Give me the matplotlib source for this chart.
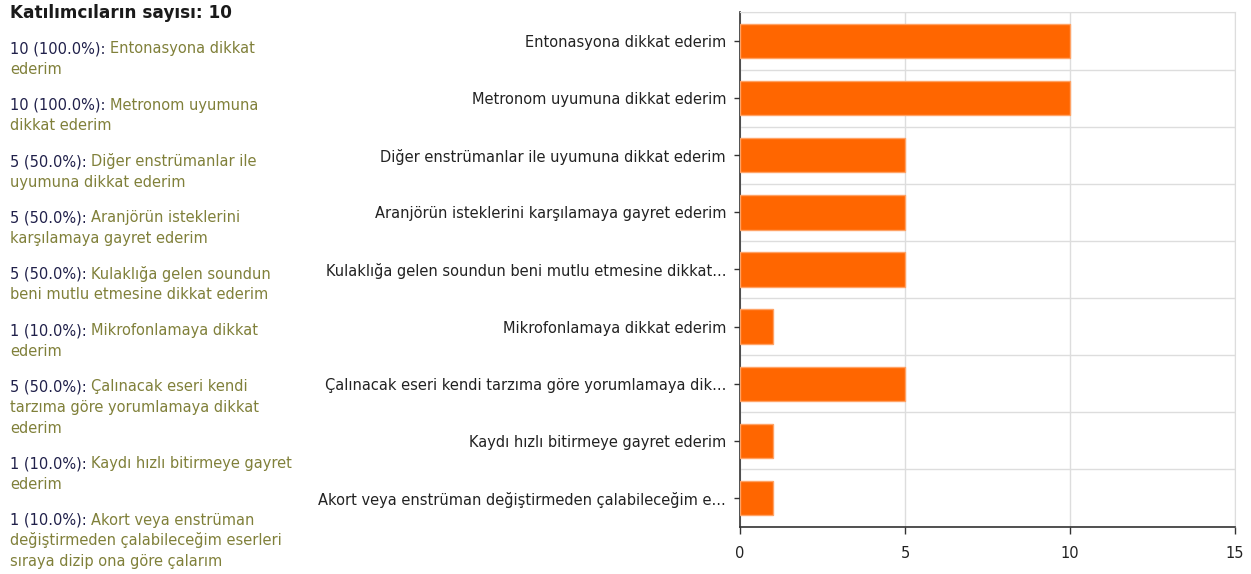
import matplotlib
matplotlib.use("Agg")
import matplotlib.pyplot as plt
import numpy as np

# ---- data ----
tick_labels = [
    "Entonasyona dikkat ederim",
    "Metronom uyumuna dikkat ederim",
    "Diğer enstrümanlar ile uyumuna dikkat ederim",
    "Aranjörün isteklerini karşılamaya gayret ederim",
    "Kulaklığa gelen soundun beni mutlu etmesine dikkat...",
    "Mikrofonlamaya dikkat ederim",
    "Çalınacak eseri kendi tarzıma göre yorumlamaya dik...",
    "Kaydı hızlı bitirmeye gayret ederim",
    "Akort veya enstrüman değiştirmeden çalabileceğim e...",
]
counts = [10, 10, 5, 5, 5, 1, 5, 1, 1]
percents = ["100.0%", "100.0%", "50.0%", "50.0%", "50.0%", "10.0%", "50.0%", "10.0%", "10.0%"]
side_lines = [
    ["Entonasyona dikkat", "ederim"],
    ["Metronom uyumuna", "dikkat ederim"],
    ["Diğer enstrümanlar ile", "uyumuna dikkat ederim"],
    ["Aranjörün isteklerini", "karşılamaya gayret ederim"],
    ["Kulaklığa gelen soundun", "beni mutlu etmesine dikkat ederim"],
    ["Mikrofonlamaya dikkat", "ederim"],
    ["Çalınacak eseri kendi", "tarzıma göre yorumlamaya dikkat", "ederim"],
    ["Kaydı hızlı bitirmeye gayret", "ederim"],
    ["Akort veya enstrüman", "değiştirmeden çalabileceğim eserleri", "sıraya dizip ona göre çalarım"],
]
header = "Katılımcıların sayısı: 10"
x_ticks = [0, 5, 10, 15]

W, H = 1251, 574
fig = plt.figure(figsize=(W / 100, H / 100), dpi=100)
plt.rcParams['font.family'] = ['DejaVu Sans']

# ---- axes ----
ax_l, ax_r, ax_t, ax_b = 740, 1235, 12.4, 526.6
ax = fig.add_axes([ax_l / W, 1 - ax_b / H, (ax_r - ax_l) / W, (ax_b - ax_t) / H])
y = np.arange(len(counts))
ax.barh(y, counts, height=0.6, color="#ff6600", edgecolor="#ffa366", linewidth=1, zorder=3)
ax.set_xlim(0, 15)
ax.set_ylim(len(counts) - 0.5, -0.5)
ax.set_yticks(y)
ax.set_yticklabels(tick_labels, fontsize=10.5, color="#222222")
ax.set_xticks(x_ticks)
ax.set_xticklabels([str(v) for v in x_ticks], fontsize=10.5, color="#222222")
ax.set_yticks(np.arange(len(counts) + 1) - 0.5, minor=True)
ax.tick_params(axis="y", which="minor", length=0)
ax.tick_params(axis="y", which="major", length=4, width=1, color="#333333", pad=6)
ax.tick_params(axis="x", which="major", length=5, width=1, color="#333333", pad=9)
ax.grid(axis="y", which="minor", color="#dddddd", linewidth=1, zorder=0)
ax.grid(axis="x", which="major", color="#dddddd", linewidth=1, zorder=0)
ax.set_axisbelow(True)
for s in ("top", "right"):
    ax.spines[s].set_color("#dddddd")
for s in ("left", "bottom"):
    ax.spines[s].set_color("#333333")
    ax.spines[s].set_linewidth(1.2)

# ---- left side text ----
def fy(py):
    return 1 - py / H

def fx(px):
    return px / W

fs = 10.5
num_color = "#20204a"
lab_color = "#80803a"
fig.text(fx(10), fy(18), header, fontsize=12.2, fontweight="bold", color="#1a1a1a", va="baseline")

renderer = fig.canvas.get_renderer()
base = 53.5
step = 20.7
gap = 14.9
for i, lines in enumerate(side_lines):
    prefix = f"{counts[i]} ({percents[i]}):"
    t = fig.text(fx(10), fy(base), prefix, fontsize=fs, color=num_color, va="baseline")
    wpx = t.get_window_extent(renderer).width
    fig.text(fx(10 + wpx + 4), fy(base), lines[0], fontsize=fs, color=lab_color, va="baseline")
    for k, ln in enumerate(lines[1:], start=1):
        fig.text(fx(10), fy(base + k * step), ln, fontsize=fs, color=lab_color, va="baseline")
    base += len(lines) * step + gap

fig.savefig("out.png", dpi=100)
